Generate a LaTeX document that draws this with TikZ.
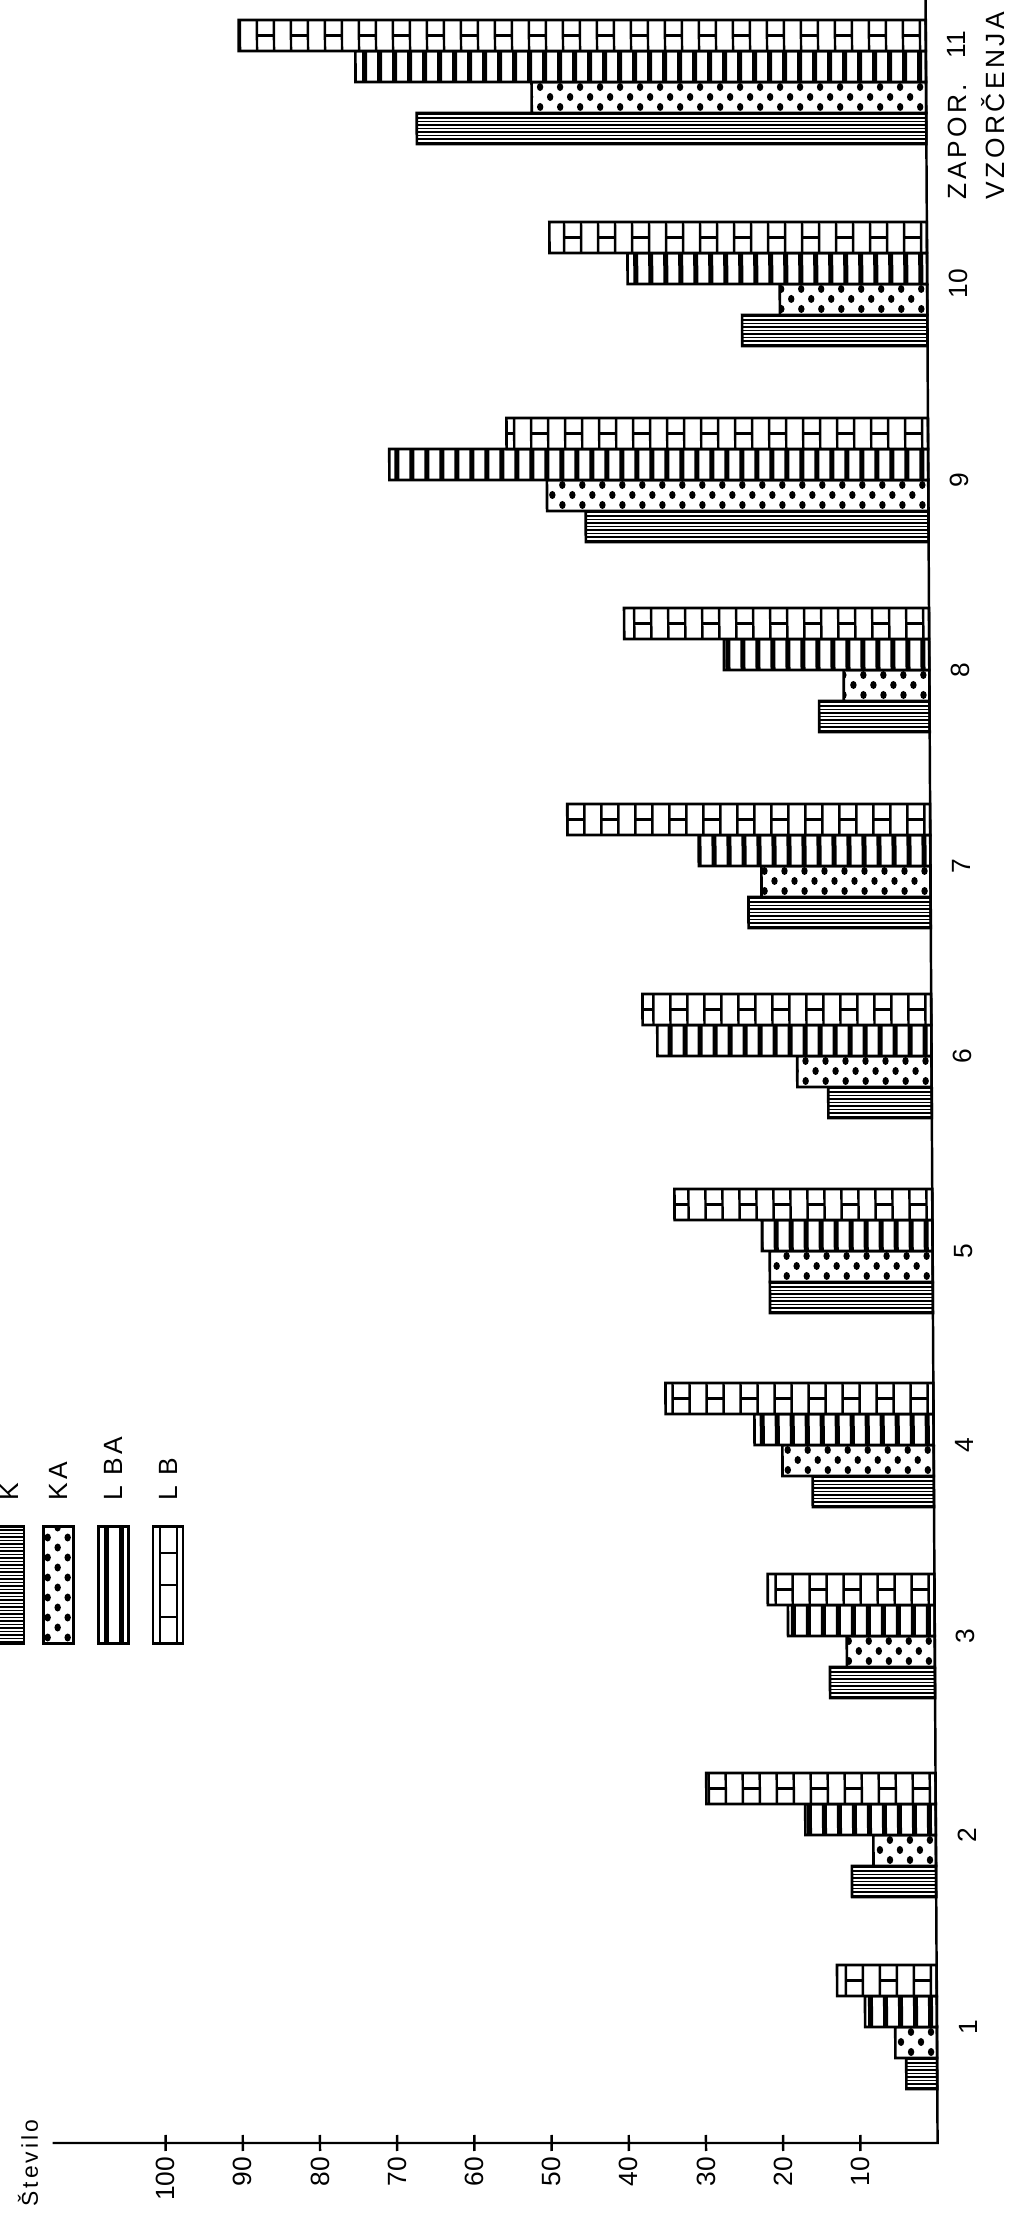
\documentclass[tikz,border=0pt]{standalone}
\usepackage{fontspec}
\setmainfont{Liberation Sans}
\newfontfamily\spacedfont{Liberation Sans}[LetterSpace=13]
\usepackage{tikz}
\usetikzlibrary{positioning}

\tikzset{
    bar/.style={draw, line width=0.75pt, fill=white},
    barK/.style={
        bar,
        path picture={
            \foreach \j in {0,...,#1}
                \draw[black, line width=0.4pt] (path picture bounding box.south west) ++(0,{3.5*\j+1.5}) -- ++(1200,0);
        }
    },
    barKA/.style={
        bar,
        path picture={
            \foreach \i in {0,...,40}
                \foreach \j in {0,...,#1}
                    \fill[black] (path picture bounding box.south east) ++({-20*\i-10*mod(\j,2)-6},{10*\j+6}) ellipse (3.2 and 4.0);
        }
    },
    barLBA/.style={
        bar,
        path picture={
            \foreach \i in {0,...,55}
                \fill[black] (path picture bounding box.north east) ++({-15*\i-4},0) rectangle ++(-5,-200);
        }
    },
    barLB/.style={
        bar,
        path picture={
            \foreach \i in {0,...,48}
                \draw[black, line width=0.7pt] (path picture bounding box.north east) ++({-17*\i-6},0) -- ++(0,-200);
            \foreach \i in {0,...,24}
                \foreach \j in {-2,...,2}
                    \draw[black, line width=0.7pt] (path picture bounding box.east) ++({-34*\i-6},{32*\j}) -- ++(-17,0);
        }
    },
    legbox/.style={minimum width=0.3cm, minimum height=1.17cm, inner sep=0pt},
    axisline/.style={line width=0.7pt},
    numtext/.style={rotate=90, inner sep=0pt, font=\fontsize{7.5}{8}\selectfont},
    wordtext/.style={rotate=90, inner sep=0pt, font=\spacedfont\fontsize{7.5}{8}\selectfont}
}

\begin{document}
\begin{tikzpicture}[x=0.01cm, y=0.01cm]
    \useasboundingbox (0,0) rectangle (1010,2218);

    \node (legK) [barK=33, legbox] at (9,633) {};
    \node (legKA) [barKA=11, legbox, right=17 of legK] {};
    \node (legLBA) [barLBA, legbox, right=22 of legKA] {};
    \node (legLB) [barLB, legbox, right=22 of legLBA] {};
    \node (legKtext) [wordtext, above=24 of legK, anchor=west] {K};
    \node (legKAtext) [wordtext, above=24 of legKA, anchor=west] {KA};
    \node (legLBAtext) [wordtext, above=24 of legLBA, anchor=west] {L BA};
    \node (legLBtext) [wordtext, above=24 of legLB, anchor=west] {L B};

    \begin{scope}[xslant=-0.0056]
        \foreach \g/\yc/\k/\ka/\lba/\lb in {
            1/191/4.0/5.4/9.3/12.9,
            2/383/10.9/8.1/16.9/29.7,
            3/582/13.6/11.4/19.0/21.6,
            4/773/15.7/19.6/23.2/34.7,
            5/967/21.1/21.1/22.1/33.4,
            6/1162/13.4/17.4/35.5/37.4,
            7/1352/23.6/21.9/30.0/47.0,
            8/1548/14.3/11.1/26.6/39.5,
            9/1738/44.4/49.4/69.8/54.6,
            10/1934/24.0/19.1/38.8/48.9,
            11/2136/66.0/51.1/73.9/89.0}{
            \draw[barK=8] ({938-7.72*\k},{\yc-62}) rectangle (938,{\yc-31});
            \draw[barKA=3] ({938-7.72*\ka},{\yc-31}) rectangle (938,\yc);
            \draw[barLBA] ({938-7.72*\lba},\yc) rectangle (938,{\yc+31});
            \draw[barLB] ({938-7.72*\lb},{\yc+31}) rectangle (938,{\yc+62});
            \ifnum\g<11
                \node (cat\g) [numtext] at (969,\yc) {\g};
            \fi
        }

        \coordinate (origin) at (938,75);
        \coordinate (ytop) at (938,2230);
        \draw[axisline] (53,75) -- (origin) -- (ytop);
        \foreach \v in {10,20,...,100}{
            \draw[axisline] ({938-7.72*\v},67) -- ({938-7.72*\v},83);
            \node (tick\v) [numtext, anchor=east] at ({938-7.72*\v},62) {\v};
        }

        \node (cat11) [numtext] at (969,2173) {11};
        \node (zapor) [wordtext, anchor=west] at (969,2018) {ZAPOR.};
        \node (vzorcenja) [wordtext, anchor=west] at (1004,2018) {VZORČENJA};
    \end{scope}

    \node (stevilo) [wordtext, anchor=base west, font=\spacedfont\fontsize{6.5}{7}\selectfont] at (38,11) {Število};
\end{tikzpicture}
\end{document}
